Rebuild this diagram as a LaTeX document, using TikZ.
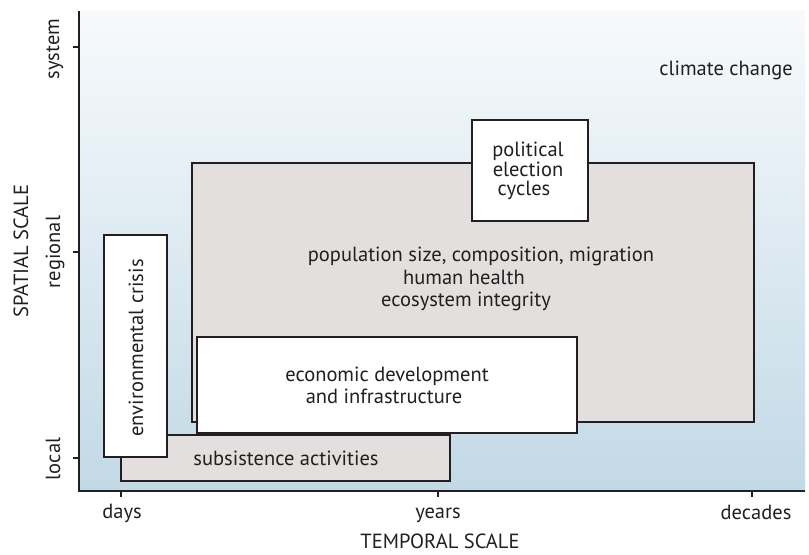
\documentclass[tikz,border=0pt]{standalone}
\usepackage{fontspec}
\setmainfont{PT Sans}
\definecolor{ink}{HTML}{231F20}
\definecolor{boxgray}{HTML}{E3DFDE}
\definecolor{skytop}{HTML}{F7FAFC}
\definecolor{skybot}{HTML}{C2D9E6}
\begin{document}
\begin{tikzpicture}[x=1bp,y=-1bp,
  box/.style={draw=ink,line width=2bp},
  graybox/.style={box,fill=boxgray},
  whitebox/.style={box,fill=white},
  lbl/.style={text=ink,font=\fontsize{20.5bp}{23bp}\selectfont,inner sep=0pt,anchor=base},
  axis/.style={draw=ink,line width=2bp},
  tick/.style={draw=ink,line width=2bp}]
\useasboundingbox (0,0) rectangle (809,555);
% background
\shade[top color=skytop,bottom color=skybot] (80,11) rectangle (805,491);
% boxes
\draw[graybox] (192,163) rectangle (754,422);
\draw[whitebox] (472,120) rectangle (588,221);
\draw[whitebox] (197,337) rectangle (577,433);
\draw[graybox] (121,435) rectangle (450,481);
\draw[whitebox] (104,235) rectangle (167,457);
% texts
\node[lbl] (pop1) at (481,262) {population size, composition, migration};
\node[lbl] (pop2) at (464,285) {human health};
\node[lbl] (pop3) at (466,307) {ecosystem integrity};
\node[lbl] (pol1) at (528,157) {political};
\node[lbl] (pol2) at (528,177) {election};
\node[lbl] (pol3) at (524,196) {cycles};
\node[lbl] (eco1) at (387,381) {economic development};
\node[lbl] (eco2) at (384,403) {and infrastructure};
\node[lbl] (sub) at (286,465) {subsistence activities};
\node[lbl,rotate=90] (env) at (143,348) {environmental crisis};
\node[lbl] (clim) at (726,76) {climate change};
% axes
\coordinate (o) at (79,491);
\coordinate (ytop) at (79,11);
\coordinate (xend) at (805,491);
\draw[axis] (ytop) -- (o) -- (xend);
\draw[tick] (73,47) -- (79,47);
\draw[tick] (73,252) -- (79,252);
\draw[tick] (73,458) -- (79,458);
\draw[tick] (121,491) -- (121,497);
\draw[tick] (438,491) -- (438,497);
\draw[tick] (752,491) -- (752,497);
% axis labels
\node[lbl,rotate=90] (sys) at (59,49) {system};
\node[lbl,rotate=90] (reg) at (60,252) {regional};
\node[lbl,rotate=90] (loc) at (60,459) {local};
\node[lbl,rotate=90] (ylab) at (28,251) {SPATIAL SCALE};
\node[lbl] (days) at (122,518) {days};
\node[lbl] (years) at (438,518) {years};
\node[lbl] (dec) at (756,519) {decades};
\node[lbl] (xlab) at (440,548) {TEMPORAL SCALE};
\end{tikzpicture}
\end{document}
